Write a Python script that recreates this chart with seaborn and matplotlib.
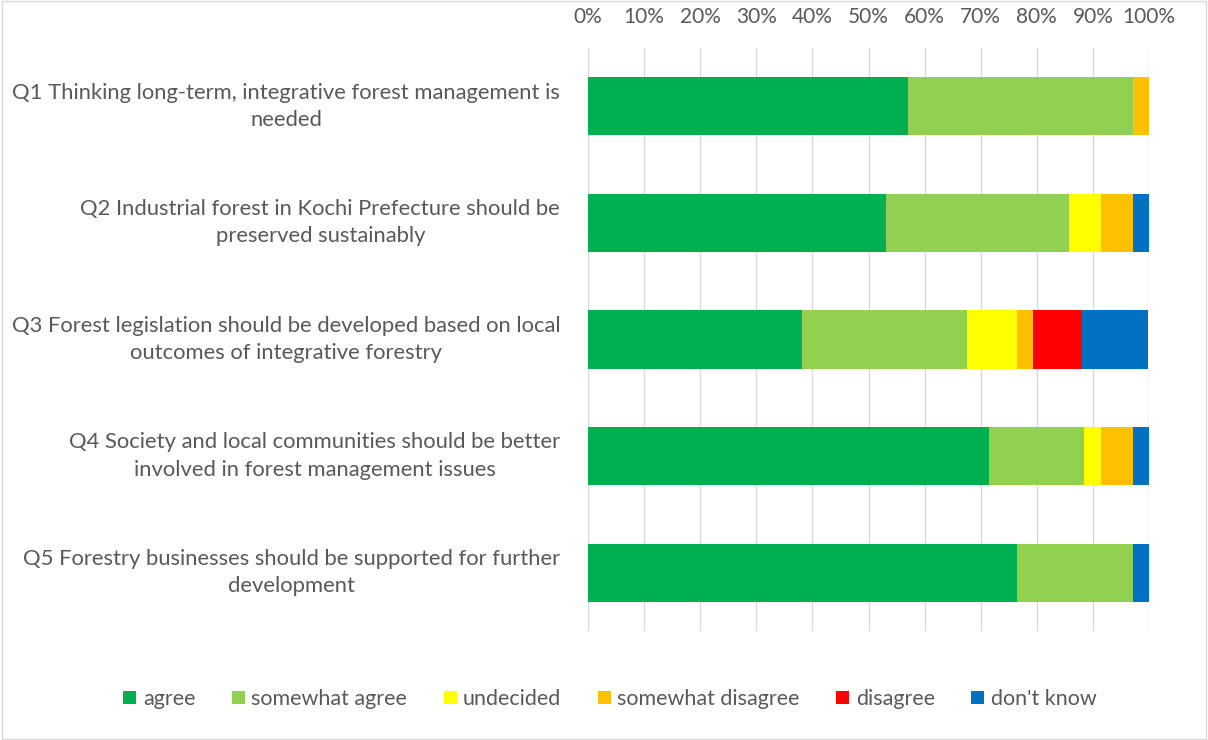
import pandas as pd
import numpy as np
import matplotlib.pyplot as plt
import seaborn as sns
from matplotlib.patches import Patch, Rectangle
from matplotlib.ticker import PercentFormatter, MultipleLocator

# ── Data (percent of respondents) ────────────────────────────
questions = [
    "Q1 Thinking long-term, integrative forest management is\nneeded",
    "Q2 Industrial forest in Kochi Prefecture should be\npreserved sustainably",
    "Q3 Forest legislation should be developed based on local\noutcomes of integrative forestry",
    "Q4 Society and local communities should be better\ninvolved in forest management issues",
    "Q5 Forestry businesses should be supported for further\ndevelopment",
]
answers = ["agree", "somewhat agree", "undecided", "somewhat disagree", "disagree", "don't know"]
colors = ["#00B050", "#92D050", "#FFFF00", "#FFC000", "#FF0000", "#0070C0"]

agree = [57.1, 53.1, 38.2, 71.4, 76.5]
somewhat_agree = [40.0, 32.6, 29.4, 17.1, 20.6]
undecided = [0.0, 5.7, 8.8, 2.9, 0.0]
somewhat_disagree = [2.9, 5.7, 2.9, 5.7, 0.0]
disagree = [0.0, 0.0, 8.8, 0.0, 0.0]
dont_know = [0.0, 2.9, 11.8, 2.9, 2.9]

df = pd.DataFrame({
    "question": questions,
    "agree": agree,
    "somewhat agree": somewhat_agree,
    "undecided": undecided,
    "somewhat disagree": somewhat_disagree,
    "disagree": disagree,
    "don't know": dont_know,
})
cum = df[answers].cumsum(axis=1)
cum["question"] = df["question"]

# ── Plot ─────────────────────────────────────────────────────
sns.set_style("white")
plt.rcParams["font.family"] = ["Lato", "DejaVu Sans"]
text_col = "#595959"
fs = 15.8

fig = plt.figure(figsize=(12.08, 7.40), dpi=100)
ax = fig.add_axes([588 / 1208, 1 - 631 / 740, 561 / 1208, 583 / 740])

# stacked bars: draw cumulative totals from the last answer back to the first
for ans, col in reversed(list(zip(answers, colors))):
    sns.barplot(data=cum, x=ans, y="question", orient="h", color=col,
                width=0.5, ax=ax, saturation=1, edgecolor="none", linewidth=0)

ax.set_xlim(0, 100)
ax.xaxis.set_major_locator(MultipleLocator(10))
ax.xaxis.set_major_formatter(PercentFormatter(decimals=0))
ax.xaxis.tick_top()
ax.grid(axis="x", color="#d9d9d9", linewidth=1)
ax.set_axisbelow(True)
ax.set_xlabel("")
ax.set_ylabel("")
for s in ax.spines.values():
    s.set_visible(False)
ax.tick_params(axis="x", length=0, pad=15, labelsize=15, labelcolor=text_col)
ax.tick_params(axis="y", length=0, pad=20, labelsize=fs, labelcolor=text_col)
for lab in ax.get_yticklabels():
    lab.set_multialignment("center")
    lab.set_linespacing(1.45)
    lab.set_va("center")

handles = [Patch(facecolor=c, edgecolor="none", label=a) for a, c in zip(answers, colors)]
fig.legend(handles=handles, loc="center", bbox_to_anchor=(610 / 1208, 1 - 699 / 740),
           ncol=6, frameon=False, fontsize=15.5, labelcolor=text_col,
           handlelength=0.6, handleheight=0.6, handletextpad=0.3, columnspacing=1.7)

fig.patches.append(Rectangle((0.002, 0.002), 0.996, 0.996, transform=fig.transFigure,
                             fill=False, edgecolor="#d9d9d9", linewidth=1))

plt.savefig("out.png", dpi=100)
plt.close()
